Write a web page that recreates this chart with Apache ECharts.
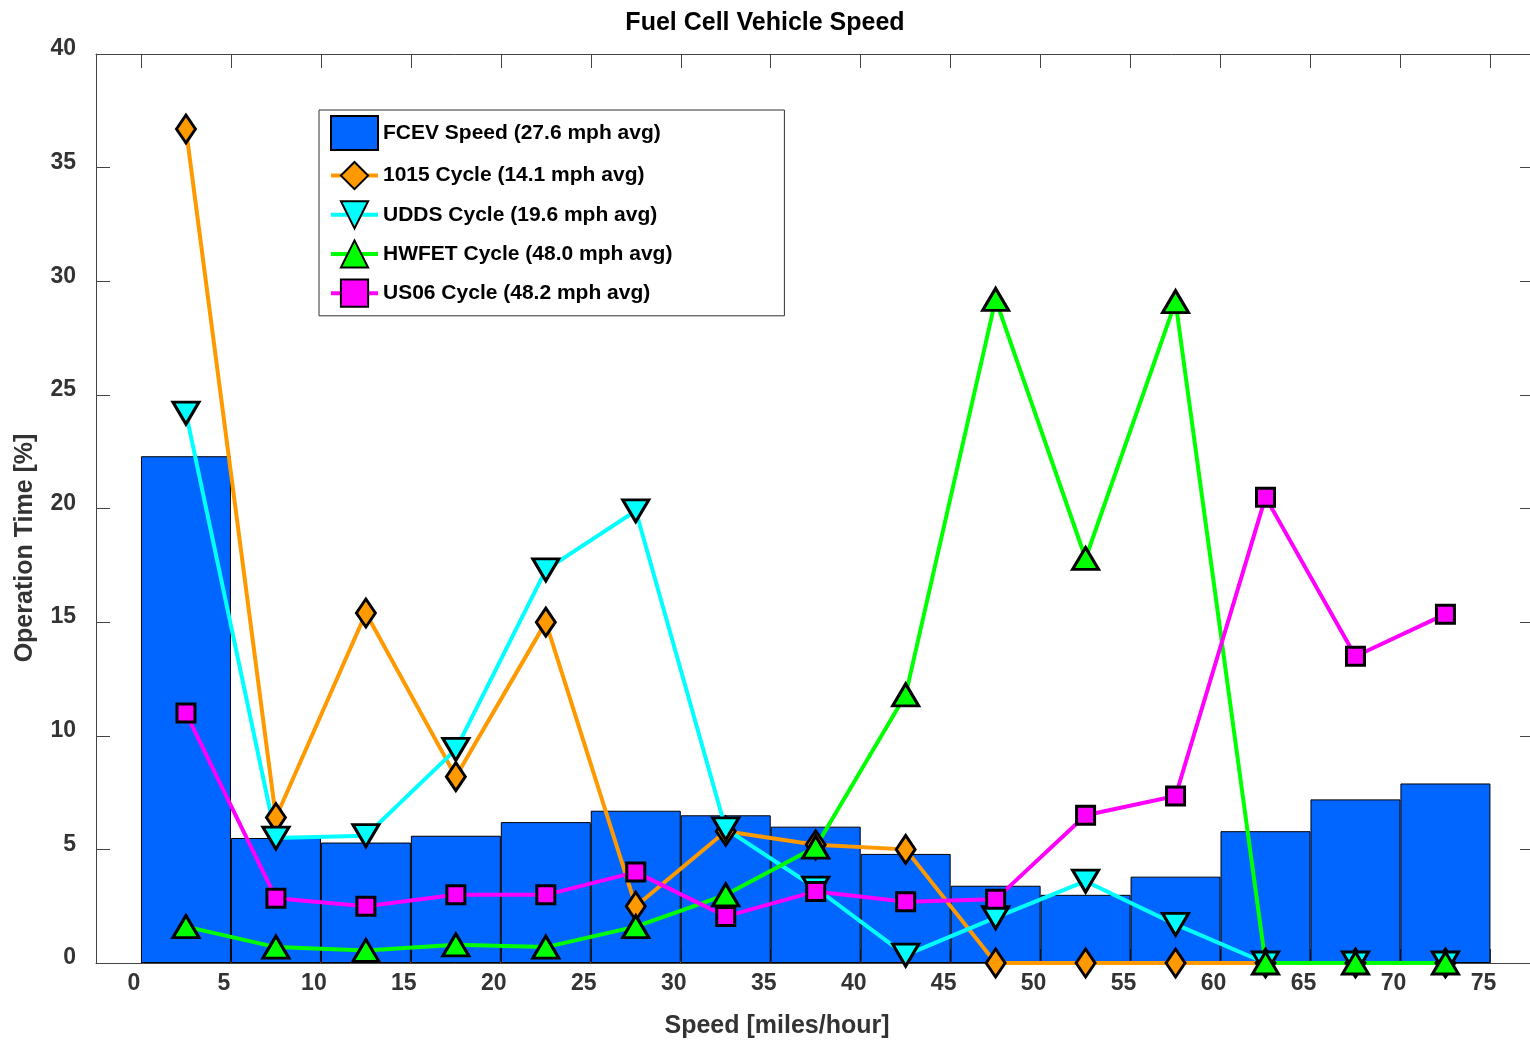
<!DOCTYPE html>
<html>
<head>
<meta charset="utf-8">
<script src="https://cdn.jsdelivr.net/npm/echarts@6/dist/echarts.min.js"></script>
<style>html,body{margin:0;padding:0;background:#fff;}#c{width:1530px;height:1040px;}</style>
</head>
<body>
<div id="c"></div>
<script>
// Bin centres (mph) and values (% of operation time)
const binCenters = [2.5, 7.5, 12.5, 17.5, 22.5, 27.5, 32.5, 37.5, 42.5, 47.5, 52.5, 57.5, 62.5, 67.5, 72.5];
const fcevSpeed = [22.3, 5.5, 5.3, 5.6, 6.2, 6.7, 6.5, 6.0, 4.8, 3.4, 3.0, 3.8, 5.8, 7.2, 7.9];
const cycle1015 = [36.7, 6.4, 15.4, 8.2, 15.0, 2.5, 5.8, 5.2, 5.0, 0, 0, 0, 0, 0, 0];
const cycleUDDS = [24.2, 5.5, 5.6, 9.4, 17.3, 19.9, 5.9, 3.3, 0.35, 2.0, 3.6, 1.7, 0, 0, 0];
const cycleHWFET = [1.6, 0.7, 0.55, 0.8, 0.7, 1.6, 3.0, 5.1, 11.8, 29.2, 17.8, 29.1, 0, 0, 0];
const cycleUS06 = [11.0, 2.85, 2.5, 3.0, 3.0, 4.0, 2.05, 3.15, 2.7, 2.8, 6.5, 7.35, 20.5, 13.5, 15.35];
const xTicks = [0, 5, 10, 15, 20, 25, 30, 35, 40, 45, 50, 55, 60, 65, 70, 75];
const seriesNames = ['FCEV Speed (27.6 mph avg)', '1015 Cycle (14.1 mph avg)', 'UDDS Cycle (19.6 mph avg)', 'HWFET Cycle (48.0 mph avg)', 'US06 Cycle (48.2 mph avg)'];

const FONT = '"Liberation Sans", Arial, Helvetica, sans-serif';
const pairs = arr => binCenters.map((x, i) => [x, arr[i]]);

const chart = echarts.init(document.getElementById('c'), null, {renderer: 'canvas'});

const axisLineStyle = {color: '#444', width: 1};
function lineSeries(name, data, color, symbol, size, rotate) {
  return {
    name: name, type: 'line', xAxisIndex: 0, yAxisIndex: 0,
    data: pairs(data),
    symbol: symbol, symbolSize: size, symbolRotate: rotate || 0,
    showAllSymbol: true,
    lineStyle: {color: color, width: 4},
    itemStyle: {color: color, borderColor: '#000', borderWidth: 3},
    emphasis: {disabled: true},
    animation: false
  };
}

const option = {
  backgroundColor: '#fff',
  animation: false,
  title: {
    text: 'Fuel Cell Vehicle Speed', left: 'center', top: 6,
    textStyle: {fontFamily: FONT, fontSize: 25, fontWeight: 'bold', color: '#000'}
  },
  grid: {left: 96, top: 54, right: 0, bottom: 77, containLabel: false},
  legend: {
    left: 319, top: 110, orient: 'vertical',
    backgroundColor: '#fff', borderColor: '#333', borderWidth: 1,
    padding: [5, 112, 8, 10],
    itemWidth: 47, itemHeight: 34, itemGap: 10,
    textStyle: {fontFamily: FONT, fontSize: 21, fontWeight: 'bold', color: '#000'},
    lineStyle: {width: 4},
    data: [
      {name: seriesNames[0], icon: 'rect'},
      seriesNames[1], seriesNames[2], seriesNames[3], seriesNames[4]
    ],
    selectedMode: false
  },
  xAxis: [
    {
      type: 'value', min: -2.5, max: 77.2, position: 'bottom',
      axisLine: {show: true, onZero: false, lineStyle: axisLineStyle},
      axisTick: {show: true, inside: true, length: 14, customValues: xTicks, lineStyle: axisLineStyle},
      axisLabel: {show: true, customValues: xTicks, margin: 9, padding: [0, 14, 0, 0],
        fontFamily: FONT, fontSize: 23, fontWeight: 'bold', color: '#333'},
      splitLine: {show: false}
    },
    {
      type: 'value', min: -2.5, max: 77.2, position: 'top',
      axisLine: {show: true, onZero: false, lineStyle: axisLineStyle},
      axisTick: {show: true, inside: true, length: 14, customValues: xTicks, lineStyle: axisLineStyle},
      axisLabel: {show: false},
      splitLine: {show: false}
    }
  ],
  yAxis: [
    {
      type: 'value', min: 0, max: 40, interval: 5, position: 'left',
      axisLine: {show: true, onZero: false, lineStyle: axisLineStyle},
      axisTick: {show: true, inside: true, length: 14, lineStyle: axisLineStyle},
      axisLabel: {show: true, margin: 20, verticalAlign: 'bottom', lineHeight: 10,
        fontFamily: FONT, fontSize: 23, fontWeight: 'bold', color: '#333'},
      splitLine: {show: false}
    },
    {
      type: 'value', min: 0, max: 40, interval: 5, position: 'right',
      axisLine: {show: false, onZero: false},
      axisTick: {show: true, inside: true, length: 10, lineStyle: axisLineStyle},
      axisLabel: {show: false},
      splitLine: {show: false}
    }
  ],
  graphic: [
    {type: 'text', x: 777, y: 1026, style: {text: 'Speed [miles/hour]', x: 0, y: 0,
      textAlign: 'center', textVerticalAlign: 'middle', fill: '#333',
      font: 'bold 25px ' + FONT}},
    {type: 'text', x: 25, y: 548, rotation: Math.PI / 2, style: {text: 'Operation Time [%]', x: 0, y: 0,
      textAlign: 'center', textVerticalAlign: 'middle', fill: '#333',
      font: 'bold 25px ' + FONT}}
  ],
  series: [
    {
      name: seriesNames[0], type: 'bar', xAxisIndex: 0, yAxisIndex: 0,
      data: pairs(fcevSpeed), barWidth: 90,
      itemStyle: {color: '#0066FF', borderColor: '#000', borderWidth: 1},
      emphasis: {disabled: true}
    },
    lineSeries(seriesNames[1], cycle1015, '#FF9900', 'diamond', [19, 28]),
    lineSeries(seriesNames[2], cycleUDDS, '#00FFFF', 'triangle', [26, 22], 180),
    lineSeries(seriesNames[3], cycleHWFET, '#00FF00', 'triangle', [26, 22]),
    lineSeries(seriesNames[4], cycleUS06, '#FF00FF', 'rect', [18, 18])
  ]
};
chart.setOption(option);
</script>
</body>
</html>
